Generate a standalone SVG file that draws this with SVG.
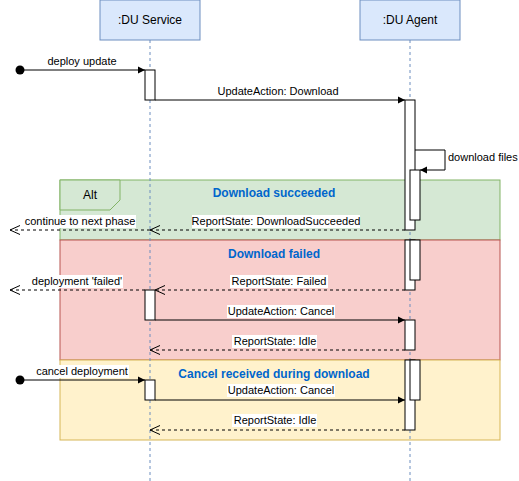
<svg xmlns="http://www.w3.org/2000/svg" width="519" height="481" viewBox="0 0 519 481">
<style>
  text { font-family: "Liberation Sans", Arial, sans-serif; fill: #000; }
  .hdr { fill: #dae8fc; stroke: #6c8ebf; stroke-width: 1; }
  .hdrt { font-size: 12px; text-anchor: middle; }
  .life { stroke: #6c8ebf; stroke-width: 1; stroke-dasharray: 3 3; fill: none; }
  .act { fill: #ffffff; stroke: #000; stroke-width: 1; }
  .msg { stroke: #000; stroke-width: 1; fill: none; }
  .ret { stroke: #000; stroke-width: 1; fill: none; stroke-dasharray: 3 3; }
  .lbl { font-size: 11px; text-anchor: middle; }
  .lbg { fill: #ffffff; }
  .ttl { font-size: 12px; font-weight: bold; text-anchor: middle; fill: #0066CC; }
</style>
<defs>
  <marker id="filled" markerWidth="8" markerHeight="8" refX="7" refY="4" orient="auto" markerUnits="userSpaceOnUse">
    <path d="M0,0.5 L7,4 L0,7.5 Z" fill="#000"/>
  </marker>
  <marker id="open" markerWidth="12" markerHeight="12" refX="10" refY="6" orient="auto" markerUnits="userSpaceOnUse">
    <path d="M0,1.5 L10,6 L0,10.5" fill="none" stroke="#000" stroke-width="1"/>
  </marker>
</defs>

<g id="frame-succeeded">
  <rect x="60" y="180" width="440" height="60" fill="#d5e8d4" stroke="#82b366"/>
  <path d="M60,180 L120,180 L120,200 L110,210 L60,210 Z" fill="#d5e8d4" stroke="#82b366"/>
  <text x="90" y="199" font-size="12" text-anchor="middle">Alt</text>
  <text class="ttl" x="274" y="197">Download succeeded</text>
</g>
<g id="frame-failed">
  <rect x="60" y="240" width="440" height="120" fill="#f8cecc" stroke="#b85450"/>
  <text class="ttl" x="274" y="258">Download failed</text>
</g>
<g id="frame-cancel">
  <rect x="60" y="360" width="440" height="80" fill="#fff2cc" stroke="#d6b656"/>
  <text class="ttl" x="274" y="378">Cancel received during download</text>
</g>

<g id="du-service">
  <rect class="hdr" x="100" y="0" width="100" height="40"/>
  <text class="hdrt" x="150" y="24">:DU Service</text>
  <line class="life" x1="150" y1="40" x2="150" y2="481"/>
</g>
<g id="du-agent">
  <rect class="hdr" x="360" y="0" width="100" height="40"/>
  <text class="hdrt" x="410" y="24">:DU Agent</text>
  <line class="life" x1="410" y1="40" x2="410" y2="481"/>
</g>

<g id="activations">
  <rect id="svc-act-1" class="act" x="145" y="70" width="10" height="30"/>
  <rect id="agt-act-1" class="act" x="405" y="100" width="10" height="130"/>
  <rect id="agt-act-1b" class="act" x="410" y="170" width="10" height="50"/>
  <rect id="agt-act-2" class="act" x="405" y="240" width="10" height="50"/>
  <rect id="agt-act-2b" class="act" x="410" y="240" width="10" height="40"/>
  <rect id="svc-act-2" class="act" x="145" y="290" width="10" height="30"/>
  <rect id="agt-act-3" class="act" x="405" y="320" width="10" height="30"/>
  <rect id="agt-act-4" class="act" x="405" y="360" width="10" height="70"/>
  <rect id="agt-act-4b" class="act" x="410" y="360" width="10" height="40"/>
  <rect id="svc-act-3" class="act" x="145" y="380" width="10" height="20"/>
</g>

<g id="connectors">
  <!-- deploy update -->
  <circle cx="20" cy="70" r="4.5" fill="#000"/>
  <line class="msg" x1="20" y1="70" x2="145" y2="70" marker-end="url(#filled)"/>
  <text class="lbl" x="82" y="65">deploy update</text>

  <!-- UpdateAction: Download -->
  <line class="msg" x1="155" y1="100" x2="405" y2="100" marker-end="url(#filled)"/>
  <text class="lbl" x="278" y="95">UpdateAction: Download</text>

  <!-- download files self call -->
  <path class="msg" d="M415,150 L445,150 L445,170 L420,170" marker-end="url(#filled)"/>
  <text x="448" y="161" font-size="11">download files</text>

  <!-- ReportState: DownloadSucceeded -->
  <line class="ret" x1="405" y1="230" x2="150" y2="230" marker-end="url(#open)"/>
  <rect class="lbg" x="192" y="215" width="168" height="13"/>
  <text class="lbl" x="276" y="225">ReportState: DownloadSucceeded</text>

  <!-- continue to next phase -->
  <line class="ret" x1="150" y1="230" x2="10" y2="230" marker-end="url(#open)"/>
  <rect class="lbg" x="24" y="215" width="112" height="13"/>
  <text class="lbl" x="80" y="225">continue to next phase</text>

  <!-- ReportState: Failed -->
  <line class="ret" x1="405" y1="290" x2="155" y2="290" marker-end="url(#open)"/>
  <rect class="lbg" x="230" y="275" width="98" height="13"/>
  <text class="lbl" x="279" y="285">ReportState: Failed</text>

  <!-- deployment 'failed' -->
  <line class="ret" x1="145" y1="290" x2="10" y2="290" marker-end="url(#open)"/>
  <rect class="lbg" x="31" y="275" width="92" height="13"/>
  <text class="lbl" x="77" y="285">deployment 'failed'</text>

  <!-- UpdateAction: Cancel (failed) -->
  <line class="msg" x1="155" y1="320" x2="405" y2="320" marker-end="url(#filled)"/>
  <rect class="lbg" x="227" y="305" width="108" height="13"/>
  <text class="lbl" x="281" y="315">UpdateAction: Cancel</text>

  <!-- ReportState: Idle (failed) -->
  <line class="ret" x1="405" y1="350" x2="150" y2="350" marker-end="url(#open)"/>
  <rect class="lbg" x="232" y="335" width="85" height="13"/>
  <text class="lbl" x="275" y="345">ReportState: Idle</text>

  <!-- cancel deployment -->
  <circle cx="20" cy="380" r="4.5" fill="#000"/>
  <line class="msg" x1="20" y1="380" x2="145" y2="380" marker-end="url(#filled)"/>
  <rect class="lbg" x="35" y="365" width="94" height="13"/>
  <text class="lbl" x="82" y="375">cancel deployment</text>

  <!-- UpdateAction: Cancel (cancel) -->
  <line class="msg" x1="155" y1="400" x2="405" y2="400" marker-end="url(#filled)"/>
  <rect class="lbg" x="227" y="384" width="108" height="13"/>
  <text class="lbl" x="281" y="394">UpdateAction: Cancel</text>

  <!-- ReportState: Idle (cancel) -->
  <line class="ret" x1="405" y1="430" x2="150" y2="430" marker-end="url(#open)"/>
  <rect class="lbg" x="232" y="414" width="85" height="13"/>
  <text class="lbl" x="275" y="424">ReportState: Idle</text>
</g>
</svg>
